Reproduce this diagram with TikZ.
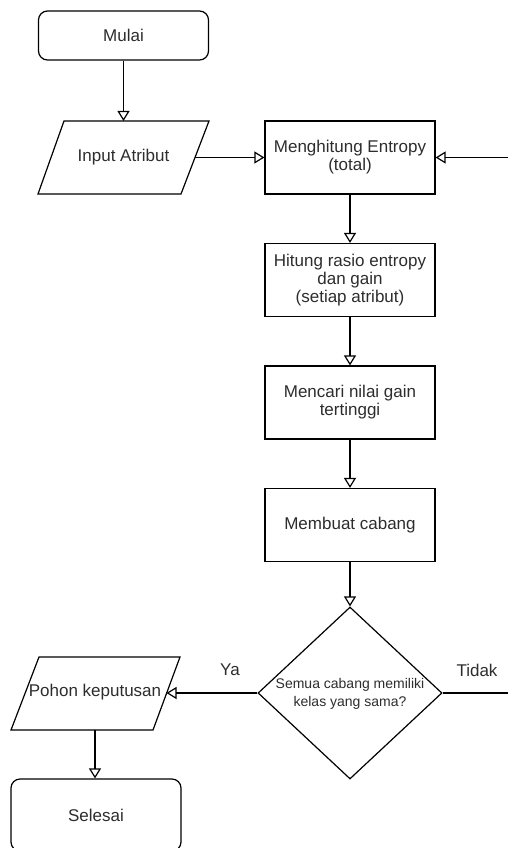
\documentclass[tikz,border=0pt]{standalone}
\usepackage{fontspec}
\setmainfont{Liberation Sans}
\usetikzlibrary{shapes.geometric,arrows.meta}
\definecolor{txt}{RGB}{45,45,45}
\begin{document}
\begin{tikzpicture}[x=1pt,y=-1pt,
  box/.style={draw=black, line width=1.2pt, fill=white, minimum width=170pt, minimum height=73pt, inner sep=0pt, align=center, font=\fontsize{17}{18}\selectfont, text=txt},
  term/.style={box, rounded corners=9pt, minimum height=49pt},
  lbl/.style={font=\fontsize{17}{18}\selectfont, text=txt, inner sep=0pt, align=center},
  small/.style={font=\fontsize{14}{18}\selectfont, text=txt, inner sep=0pt, align=center},
  wire/.style={draw=black, line width=1.2pt},
  flow/.style={wire, -{Triangle[open, length=10pt, width=12pt]}},
  dec/.style={draw=black, line width=1.2pt, fill=white, diamond, minimum width=184pt, minimum height=172pt, inner sep=0pt},
]
\useasboundingbox (0,0) rectangle (508,848);
\clip (0,0) rectangle (508,848);

% Mulai
\node[term] (mulai) at (123.5,35.5) {Mulai};

% Input Atribut (parallelogram)
\draw[wire, fill=white] (38,194) -- (64,121) -- (209,121) -- (181,194) -- cycle;
\node[lbl] (input) at (123.5,157.5) {Input Atribut};
\coordinate (inputT) at (123.5,121);
\coordinate (inputR) at (195,157.5);

% Process boxes
\node[box] (ent) at (350,157.5) {Menghitung Entropy\\(total)};
\node[box] (hit) at (350,280) {Hitung rasio entropy\\dan gain\\(setiap atribut)};
\node[box] (cari) at (350,402.5) {Mencari nilai gain\\tertinggi};
\node[box] (buat) at (350,525) {Membuat cabang};

% Decision
\node[dec] (dec) at (350,693) {};
\node[small] (dectext) at (350,694) {Semua cabang memiliki\\kelas yang sama?};

% Pohon keputusan (parallelogram)
\draw[wire, fill=white] (11,730) -- (39,657) -- (180,657) -- (153,730) -- cycle;
\node[lbl] (pohon) at (95,692) {Pohon keputusan};
\coordinate (pohonR) at (166.5,693);
\coordinate (pohonB) at (95,730);

% Selesai
\node[term, minimum height=72pt] (sel) at (96,815) {Selesai};

% Free ends at the right margin
\coordinate (loopE) at (508,157.5);
\coordinate (tidakE) at (508,693);

% Connectors
\draw[flow] (mulai.south -| inputT) -- (inputT);
\draw[flow] (inputR) -- (ent.west);
\draw[flow] (loopE) -- (ent.east);
\draw[flow] (ent.south) -- (hit.north);
\draw[flow] (hit.south) -- (cari.north);
\draw[flow] (cari.south) -- (buat.north);
\draw[flow] (buat.south) -- (dec.north);
\draw[flow] (dec.west) -- (pohonR);
\draw[wire] (dec.east) -- (tidakE);
\draw[flow] (pohonB) -- (pohonB |- sel.north);

% Labels
\node[lbl] (ya) at (230,670) {Ya};
\node[lbl] (tidak) at (477,670) {Tidak};
\end{tikzpicture}
\end{document}
